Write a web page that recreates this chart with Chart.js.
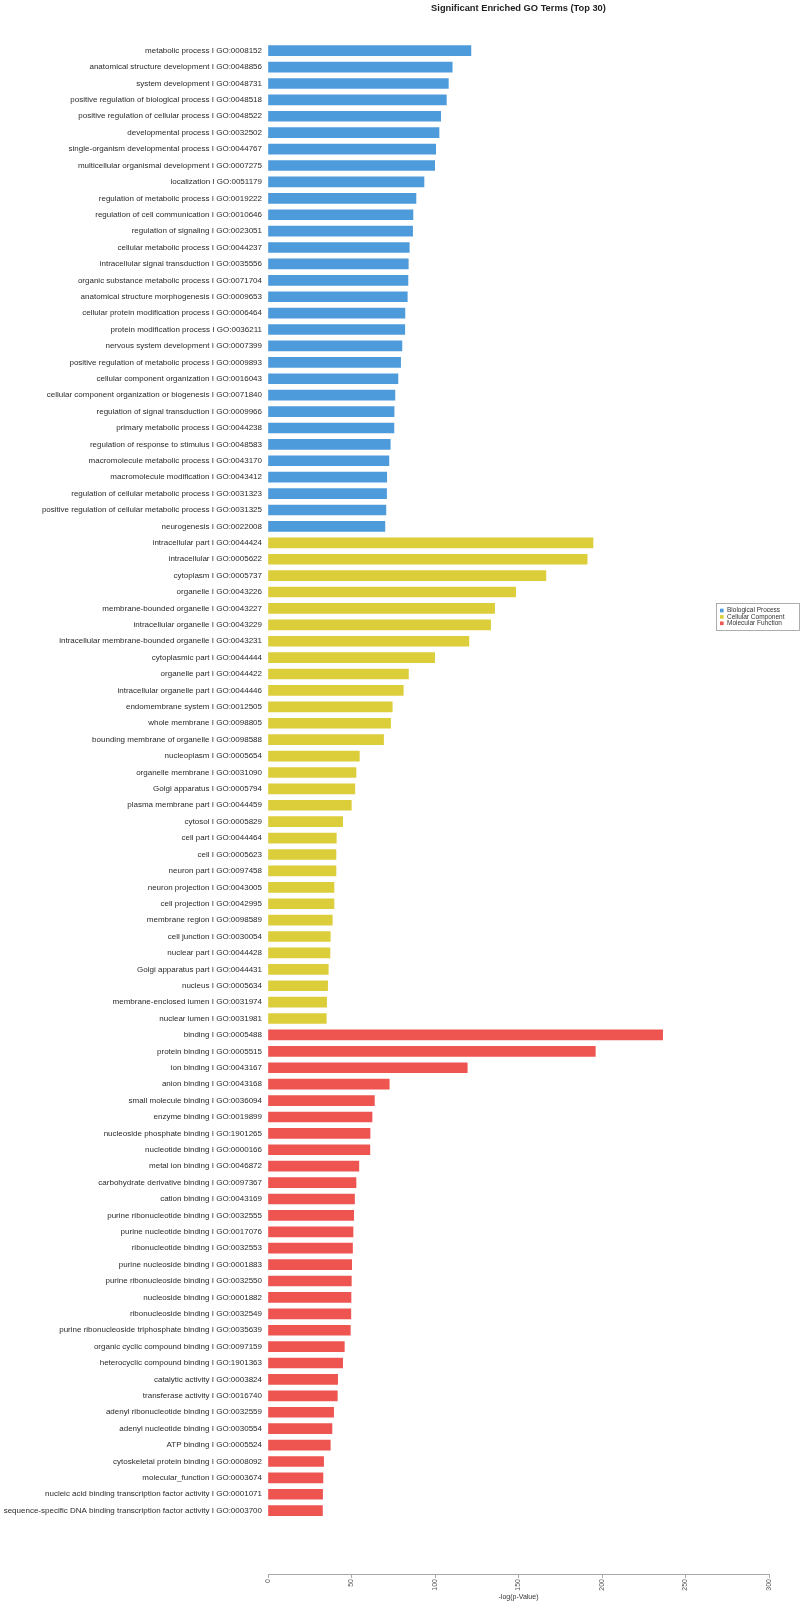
<!DOCTYPE html>
<html>
<head>
<meta charset="utf-8">
<script src="https://cdn.jsdelivr.net/npm/chart.js@4.4.1/dist/chart.umd.min.js"></script>
<style>
  html, body { margin: 0; padding: 0; background: #ffffff; }
  #wrap { width: 800px; height: 1601px; position: relative; }
</style>
</head>
<body>
<div id="wrap"><canvas id="c" width="800" height="1601"></canvas></div>
<script>
// ---------------- data ----------------
const bpTerms = [
  "metabolic process I GO:0008152",
  "anatomical structure development I GO:0048856",
  "system development I GO:0048731",
  "positive regulation of biological process I GO:0048518",
  "positive regulation of cellular process I GO:0048522",
  "developmental process I GO:0032502",
  "single-organism developmental process I GO:0044767",
  "multicellular organismal development I GO:0007275",
  "localization I GO:0051179",
  "regulation of metabolic process I GO:0019222",
  "regulation of cell communication I GO:0010646",
  "regulation of signaling I GO:0023051",
  "cellular metabolic process I GO:0044237",
  "intracellular signal transduction I GO:0035556",
  "organic substance metabolic process I GO:0071704",
  "anatomical structure morphogenesis I GO:0009653",
  "cellular protein modification process I GO:0006464",
  "protein modification process I GO:0036211",
  "nervous system development I GO:0007399",
  "positive regulation of metabolic process I GO:0009893",
  "cellular component organization I GO:0016043",
  "cellular component organization or biogenesis I GO:0071840",
  "regulation of signal transduction I GO:0009966",
  "primary metabolic process I GO:0044238",
  "regulation of response to stimulus I GO:0048583",
  "macromolecule metabolic process I GO:0043170",
  "macromolecule modification I GO:0043412",
  "regulation of cellular metabolic process I GO:0031323",
  "positive regulation of cellular metabolic process I GO:0031325",
  "neurogenesis I GO:0022008"
];
const bpValues = [121.5, 110.3, 108.0, 106.8, 103.4, 102.4, 100.4, 99.8, 93.4, 88.6,
  86.8, 86.6, 84.6, 84.0, 83.8, 83.4, 82.0, 81.9, 80.2, 79.4,
  77.8, 76.0, 75.5, 75.4, 73.2, 72.4, 71.1, 71.0, 70.6, 70.0];

const ccTerms = [
  "intracellular part I GO:0044424",
  "intracellular I GO:0005622",
  "cytoplasm I GO:0005737",
  "organelle I GO:0043226",
  "membrane-bounded organelle I GO:0043227",
  "intracellular organelle I GO:0043229",
  "intracellular membrane-bounded organelle I GO:0043231",
  "cytoplasmic part I GO:0044444",
  "organelle part I GO:0044422",
  "intracellular organelle part I GO:0044446",
  "endomembrane system I GO:0012505",
  "whole membrane I GO:0098805",
  "bounding membrane of organelle I GO:0098588",
  "nucleoplasm I GO:0005654",
  "organelle membrane I GO:0031090",
  "Golgi apparatus I GO:0005794",
  "plasma membrane part I GO:0044459",
  "cytosol I GO:0005829",
  "cell part I GO:0044464",
  "cell I GO:0005623",
  "neuron part I GO:0097458",
  "neuron projection I GO:0043005",
  "cell projection I GO:0042995",
  "membrane region I GO:0098589",
  "cell junction I GO:0030054",
  "nuclear part I GO:0044428",
  "Golgi apparatus part I GO:0044431",
  "nucleus I GO:0005634",
  "membrane-enclosed lumen I GO:0031974",
  "nuclear lumen I GO:0031981"
];
const ccValues = [194.6, 191.1, 166.4, 148.3, 135.7, 133.3, 120.3, 99.8, 84.1, 81.0,
  74.4, 73.4, 69.2, 54.7, 52.7, 52.0, 49.9, 44.7, 40.9, 40.7,
  40.7, 39.5, 39.5, 38.5, 37.3, 37.1, 36.1, 35.7, 35.1, 34.9];

const mfTerms = [
  "binding I GO:0005488",
  "protein binding I GO:0005515",
  "ion binding I GO:0043167",
  "anion binding I GO:0043168",
  "small molecule binding I GO:0036094",
  "enzyme binding I GO:0019899",
  "nucleoside phosphate binding I GO:1901265",
  "nucleotide binding I GO:0000166",
  "metal ion binding I GO:0046872",
  "carbohydrate derivative binding I GO:0097367",
  "cation binding I GO:0043169",
  "purine ribonucleotide binding I GO:0032555",
  "purine nucleotide binding I GO:0017076",
  "ribonucleotide binding I GO:0032553",
  "purine nucleoside binding I GO:0001883",
  "purine ribonucleoside binding I GO:0032550",
  "nucleoside binding I GO:0001882",
  "ribonucleoside binding I GO:0032549",
  "purine ribonucleoside triphosphate binding I GO:0035639",
  "organic cyclic compound binding I GO:0097159",
  "heterocyclic compound binding I GO:1901363",
  "catalytic activity I GO:0003824",
  "transferase activity I GO:0016740",
  "adenyl ribonucleotide binding I GO:0032559",
  "adenyl nucleotide binding I GO:0030554",
  "ATP binding I GO:0005524",
  "cytoskeletal protein binding I GO:0008092",
  "molecular_function I GO:0003674",
  "nucleic acid binding transcription factor activity I GO:0001071",
  "sequence-specific DNA binding transcription factor activity I GO:0003700"
];
const mfValues = [236.3, 196.0, 119.3, 72.6, 63.7, 62.3, 61.1, 61.0, 54.4, 52.7,
  51.8, 51.3, 50.9, 50.6, 50.1, 49.9, 49.7, 49.6, 49.3, 45.7,
  44.7, 41.7, 41.5, 39.3, 38.3, 37.3, 33.3, 32.9, 32.7, 32.6];

const seriesNames = ["Biological Process", "Cellular Component", "Molecular Function"];
const xTickValues = [0, 50, 100, 150, 200, 250, 300];
const chartTitle = "Significant Enriched GO Terms (Top 30)";
const xAxisTitle = "-log(p-Value)";

// ---------------- build ----------------
const categories = bpTerms.concat(ccTerms, mfTerms);
const colors = ["#4E9BDB", "#DCCE3A", "#EE5450"];
const groups = [bpValues, ccValues, mfValues];
let offset = 0;
const datasets = groups.map((vals, g) => {
  const start = offset;
  offset += vals.length;
  return {
    label: seriesNames[g],
    data: vals.map((v, i) => ({ x: v, y: start + i })),
    backgroundColor: colors[g],
    borderWidth: 0,
    barThickness: 10,
    grouped: false
  };
});

const FONT = "'Liberation Sans', Arial, Helvetica, sans-serif";

const legendPlugin = {
  id: 'goLegend',
  afterDraw(chart, args, opts) {
    const ctx = chart.ctx;
    ctx.save();
    ctx.strokeStyle = '#9a9a9a';
    ctx.lineWidth = 0.8;
    ctx.strokeRect(opts.x + 0.5, opts.y + 0.5, opts.w, opts.h);
    ctx.font = opts.fontSize + 'px ' + FONT;
    ctx.textBaseline = 'middle';
    ctx.textAlign = 'left';
    chart.data.datasets.forEach((ds, i) => {
      const cy = opts.y + opts.firstRow + i * opts.rowGap;
      ctx.fillStyle = ds.backgroundColor;
      ctx.fillRect(opts.x + 4, cy - 1.8, 3.6, 3.6);
      ctx.fillStyle = '#333';
      ctx.fillText(ds.label, opts.x + 11, cy);
    });
    ctx.restore();
  }
};

new Chart(document.getElementById('c'), {
  type: 'bar',
  data: { datasets },
  plugins: [legendPlugin],
  options: {
    responsive: false,
    animation: false,
    indexAxis: 'y',
    layout: { padding: { left: 0, right: 31, top: 0, bottom: 0 } },
    scales: {
      y: {
        type: 'linear',
        reverse: true,
        offset: false,
        bounds: 'data',
        min: -0.5,
        max: 92.86,
        afterFit: (s) => { s.width = 268; },
        afterBuildTicks: (s) => { s.ticks = categories.map((_, i) => ({ value: i })); },
        grid: { display: false, drawTicks: false, offset: false },
        border: { display: false },
        ticks: {
          autoSkip: false,
          padding: 6,
          color: '#2a2a2a',
          font: { family: FONT, size: 8 },
          callback: (v) => (Number.isInteger(v) && v >= 0 && v < categories.length) ? categories[v] : ''
        }
      },
      x: {
        type: 'linear',
        min: 0,
        max: 300,
        afterFit: (s) => { s.height = 27; },
        afterBuildTicks: (s) => { s.ticks = xTickValues.map(v => ({ value: v })); },
        grid: { drawOnChartArea: false, drawTicks: true, tickLength: 4, color: '#a8a8a8' },
        border: { display: true, color: '#a8a8a8', width: 1 },
        ticks: {
          minRotation: 90,
          maxRotation: 90,
          padding: 1,
          color: '#555',
          font: { family: FONT, size: 7 }
        },
        title: {
          display: true,
          text: xAxisTitle,
          color: '#333',
          padding: { top: 0, bottom: 0 },
          font: { family: FONT, size: 7 }
        }
      }
    },
    plugins: {
      legend: { display: false },
      tooltip: { enabled: false },
      title: {
        display: true,
        fullSize: false,
        text: chartTitle,
        color: '#222',
        font: { family: FONT, size: 9.3, weight: 'bold', lineHeight: 1.2 },
        padding: { top: 3, bottom: 28.3 }
      },
      goLegend: { x: 716, y: 603, w: 83, h: 27, firstRow: 7.5, rowGap: 6.4, fontSize: 6.5 }
    }
  }
});
</script>
</body>
</html>
